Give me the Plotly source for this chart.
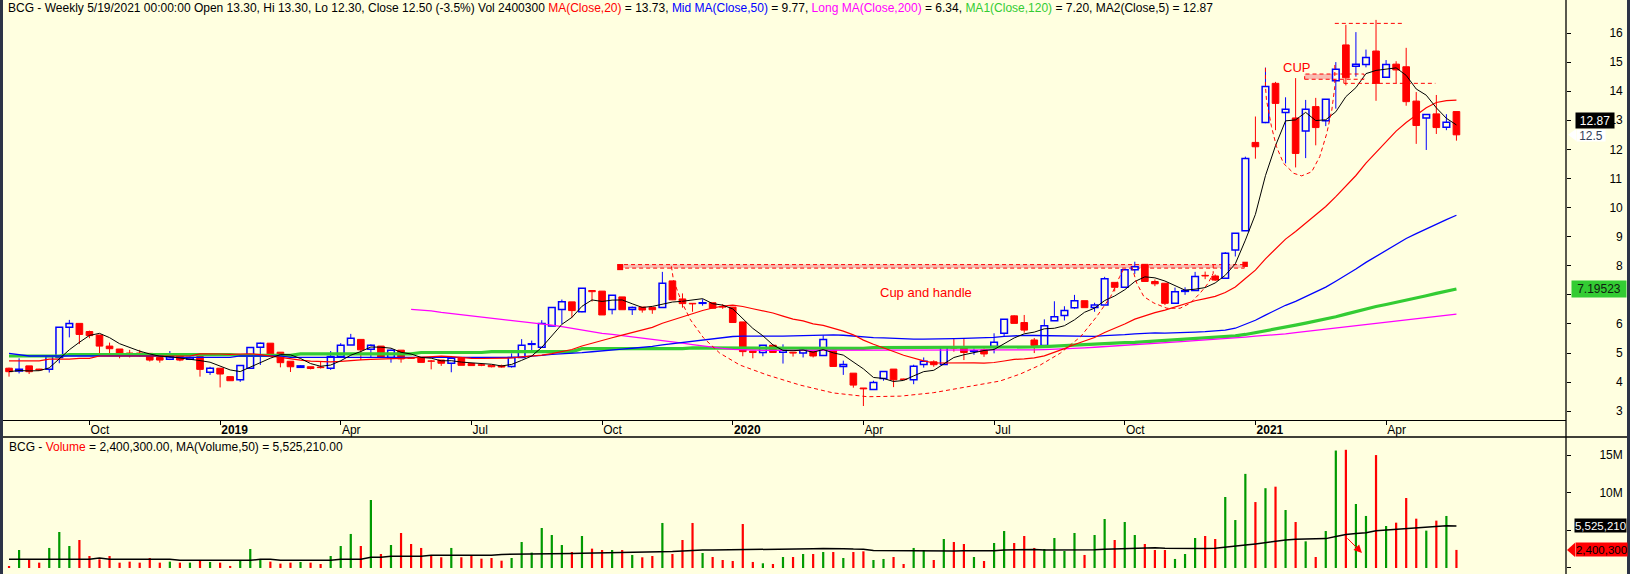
import pandas as pd
import plotly.graph_objects as go

# ---------------- data ----------------
all_weeks = pd.date_range("2018-08-10", "2021-05-21", freq="W-FRI")
missing_weeks = ["2019-02-08"]  # holiday week without a bar
dates = [d.strftime("%Y-%m-%d") for d in all_weeks if d.strftime("%Y-%m-%d") not in missing_weeks]

open_ = [4.48, 4.38, 4.56, 4.45, 4.44, 4.85, 5.89, 6.02, 5.74, 5.62,
         5.24, 5.14, 5.00, 5.00, 4.99, 4.85, 4.79, 4.97, 4.79, 4.88,
         4.34, 4.48, 4.19, 4.08, 4.48, 5.20, 5.34, 5.03, 4.72, 4.51,
         4.53, 4.52, 4.48, 4.88, 5.28, 5.47, 5.13, 5.24, 4.85, 5.10,
         4.83, 4.85, 4.73, 4.76, 4.65, 4.85, 4.64, 4.60, 4.58, 4.56,
         4.54, 4.85, 5.30, 5.20, 5.93, 6.50, 6.76, 6.42, 7.15, 7.13,
         6.50, 6.93, 6.50, 6.58, 6.57, 6.57, 7.48, 6.86, 6.71, 6.71,
         6.73, 6.60, 6.58, 6.07, 5.07, 5.02, 5.27, 5.03, 5.03, 5.00,
         5.05, 4.92, 5.11, 4.54, 4.31, 3.80, 3.75, 4.13, 4.45, 4.11,
         4.08, 4.61, 4.70, 4.61, 5.20, 5.20, 5.06, 5.11, 5.23, 5.68,
         6.28, 6.05, 5.45, 5.26, 6.11, 6.29, 6.56, 6.80, 6.57, 6.65,
         7.43, 7.26, 7.86, 8.05, 7.46, 7.40, 6.71, 7.12, 7.15, 7.67,
         7.65, 7.57, 8.54, 9.20, 12.24, 12.92, 14.27, 13.27, 13.08, 12.63,
         13.47, 12.98, 14.36, 15.59, 14.86, 14.92, 15.38, 14.48, 14.93, 14.84,
         13.66, 13.08, 13.22, 12.76, 13.30]
high = [4.50, 4.82, 4.56, 4.46, 4.93, 5.89, 6.14, 6.02, 5.77, 5.62,
        5.36, 5.14, 5.11, 5.11, 4.99, 4.85, 5.07, 4.99, 4.88, 4.88,
        4.53, 4.48, 4.20, 4.57, 5.19, 5.36, 5.34, 5.03, 4.72, 4.58,
        4.53, 4.71, 5.07, 5.34, 5.66, 5.47, 5.30, 5.24, 5.12, 5.10,
        4.85, 4.85, 4.76, 4.76, 4.90, 4.85, 4.64, 4.62, 4.58, 4.60,
        4.99, 5.48, 5.43, 6.13, 6.57, 6.84, 6.76, 7.23, 7.16, 7.13,
        6.99, 6.93, 6.60, 6.58, 6.57, 7.79, 7.48, 7.05, 6.71, 6.85,
        6.73, 6.68, 6.58, 6.07, 5.07, 5.27, 5.27, 5.30, 5.03, 5.20,
        5.05, 5.61, 5.20, 4.74, 4.31, 3.80, 4.05, 4.37, 4.45, 4.12,
        4.60, 4.85, 4.75, 5.24, 5.50, 5.50, 5.16, 5.16, 5.68, 6.16,
        6.30, 6.31, 5.52, 6.16, 6.78, 6.61, 7.00, 6.80, 6.73, 7.62,
        7.43, 7.86, 8.14, 8.05, 7.53, 7.40, 7.25, 7.26, 7.79, 7.80,
        7.70, 8.47, 9.12, 11.75, 13.13, 14.81, 14.32, 13.79, 14.45, 13.70,
        13.77, 13.72, 15.00, 16.28, 16.03, 15.43, 16.45, 15.07, 15.03, 15.49,
        13.97, 13.20, 13.87, 13.21, 13.30]
low = [4.19, 4.30, 4.28, 4.40, 4.33, 4.65, 5.54, 5.31, 5.51, 4.99,
       4.97, 4.82, 4.85, 4.88, 4.71, 4.67, 4.76, 4.72, 4.76, 4.19,
       4.25, 3.82, 4.05, 4.01, 4.48, 4.59, 4.95, 4.51, 4.35, 4.50,
       4.44, 4.47, 4.42, 4.88, 5.28, 4.76, 4.85, 4.85, 4.67, 4.67,
       4.80, 4.68, 4.44, 4.56, 4.34, 4.58, 4.57, 4.55, 4.51, 4.50,
       4.50, 4.85, 5.05, 5.20, 5.93, 6.00, 6.21, 6.40, 6.77, 6.31,
       6.33, 6.49, 6.31, 6.39, 6.35, 6.57, 6.82, 6.56, 6.42, 6.63,
       6.54, 6.52, 6.05, 4.89, 4.82, 4.89, 5.02, 4.64, 4.88, 4.85,
       4.85, 4.92, 4.54, 4.25, 3.81, 3.18, 3.75, 4.05, 3.83, 4.08,
       3.93, 4.50, 4.53, 4.61, 5.05, 4.76, 4.94, 4.87, 4.99, 5.56,
       6.02, 5.70, 5.00, 5.26, 6.11, 6.12, 6.52, 6.56, 6.42, 6.65,
       7.12, 7.26, 7.72, 7.46, 7.30, 6.65, 6.71, 7.00, 7.15, 7.54,
       7.48, 7.57, 8.32, 9.20, 11.68, 12.90, 12.66, 11.52, 11.38, 11.70,
       12.14, 12.80, 13.40, 14.20, 14.50, 14.82, 13.67, 14.48, 14.28, 13.50,
       12.19, 11.98, 12.53, 12.66, 12.30]
close = [4.36, 4.44, 4.36, 4.42, 4.88, 5.89, 6.02, 5.64, 5.60, 5.24,
         5.15, 4.98, 4.98, 4.98, 4.76, 4.76, 4.90, 4.76, 4.85, 4.44,
         4.48, 4.28, 4.05, 4.57, 5.19, 5.34, 4.97, 4.67, 4.53, 4.56,
         4.47, 4.50, 4.88, 5.27, 5.51, 5.11, 5.27, 4.85, 5.10, 4.80,
         4.82, 4.68, 4.72, 4.65, 4.82, 4.58, 4.57, 4.58, 4.53, 4.52,
         4.85, 5.27, 5.32, 6.02, 6.57, 6.76, 6.46, 7.23, 7.11, 6.31,
         6.99, 6.49, 6.57, 6.48, 6.49, 7.40, 6.83, 6.70, 6.69, 6.73,
         6.54, 6.58, 6.05, 5.05, 5.02, 5.27, 5.02, 5.10, 5.00, 5.13,
         4.90, 5.47, 4.54, 4.61, 3.90, 3.77, 3.99, 4.37, 4.08, 4.09,
         4.55, 4.72, 4.60, 5.20, 5.17, 5.02, 5.08, 4.97, 5.37, 6.16,
         6.02, 5.79, 5.26, 5.94, 6.25, 6.46, 6.80, 6.56, 6.65, 7.55,
         7.26, 7.86, 7.97, 7.46, 7.38, 6.71, 7.11, 7.15, 7.63, 7.65,
         7.51, 8.43, 9.12, 11.69, 12.09, 14.16, 13.58, 13.38, 11.86, 13.38,
         12.75, 13.72, 14.75, 14.46, 14.93, 15.16, 14.27, 14.92, 14.73, 13.64,
         12.82, 13.20, 12.75, 12.93, 12.50]
volume_m = [0.17, 2.39, 1.15, 0.71, 2.66, 4.78, 2.92, 3.72, 1.59, 1.15,
            1.59, 0.71, 0.84, 0.71, 1.33, 0.71, 0.84, 0.71, 0.71, 1.06,
            0.80, 0.71, 0.27, 0.97, 2.52, 1.06, 0.84, 0.58, 0.71, 0.80,
            0.71, 0.53, 1.59, 2.92, 4.52, 2.92, 9.03, 1.86, 3.05, 4.65,
            3.19, 2.66, 1.68, 1.42, 2.66, 1.42, 1.68, 1.24, 1.33, 0.97,
            1.33, 3.45, 2.04, 5.31, 4.38, 3.05, 2.12, 4.25, 2.57, 2.39,
            2.39, 2.39, 1.73, 1.42, 1.59, 5.98, 1.86, 3.72, 5.98, 1.99,
            1.46, 1.06, 0.93, 5.84, 0.80, 0.62, 0.53, 1.46, 1.46, 1.86,
            1.86, 2.12, 2.12, 1.33, 2.12, 2.21, 1.06, 1.20, 1.46, 0.53,
            2.66, 2.39, 1.06, 3.85, 3.45, 3.19, 1.46, 0.93, 3.32, 4.91,
            3.32, 4.25, 2.66, 2.52, 3.98, 2.26, 4.65, 1.73, 4.38, 6.51,
            3.72, 6.11, 4.38, 3.19, 2.39, 2.39, 1.20, 1.86, 3.98, 4.25,
            3.85, 9.43, 6.37, 12.5, 8.76, 10.6, 10.8, 7.70, 6.11, 3.54,
            1.46, 4.91, 15.6, 15.7, 8.50, 6.91, 15.0, 5.58, 6.02, 9.30,
            6.55, 4.96, 6.29, 6.91, 2.40]

# moving-average values before the history needed by the window
ma20_head = [4.73, 4.73, 4.73, 4.73, 4.79, 4.79, 4.79, 4.82, 4.82, 4.90,
             4.90, 4.90, 4.90, 4.90, 4.90, 4.90, 4.90, 4.90, 4.90]
ma50_head = [4.99, 4.95, 4.90, 4.90, 4.90, 4.90, 4.90, 4.90, 4.90, 4.90,
             4.90, 4.90, 4.90, 4.90, 4.90, 4.90, 4.85, 4.85, 4.85, 4.85,
             4.85, 4.85, 4.85, 4.90, 4.90, 4.90, 4.90, 4.90, 4.85, 4.85,
             4.85, 4.85, 4.85, 4.85, 4.85, 4.85, 4.85, 4.85, 4.85, 4.85,
             4.85, 4.85, 4.85, 4.85, 4.85, 4.85, 4.85, 4.85, 4.85]
vol_ma_head = [1.15, 1.15, 1.15, 1.15, 1.15, 1.15, 1.15, 1.15, 1.15, 1.33,
               1.15, 1.15, 1.15, 1.15, 1.15, 1.15, 1.15, 1.02, 1.02, 1.02,
               1.02, 1.02, 1.02, 1.02, 1.02, 1.15, 1.15, 1.02, 1.02, 1.02,
               1.02, 1.02, 1.02, 1.15, 1.15, 1.15, 1.42, 1.42, 1.55, 1.55,
               1.55, 1.55, 1.68, 1.68, 1.68, 1.68, 1.68, 1.68, 1.68]
ma120 = [4.90, 4.90, 4.90, 4.90, 4.90, 4.90, 4.95, 4.95, 4.95, 4.95,
         4.95, 4.95, 4.95, 4.95, 4.95, 4.95, 4.95, 4.95, 4.95, 4.95,
         4.95, 4.95, 4.95, 4.92, 4.92, 4.92, 4.92, 4.92, 4.92, 4.97,
         4.97, 4.97, 4.97, 4.97, 4.97, 4.97, 4.97, 4.97, 4.97, 4.97,
         4.97, 5.02, 5.02, 5.02, 5.02, 5.02, 5.02, 5.02, 5.05, 5.05,
         5.05, 5.05, 5.05, 5.05, 5.05, 5.05, 5.05, 5.15, 5.15, 5.15,
         5.15, 5.15, 5.15, 5.15, 5.15, 5.15, 5.15, 5.15, 5.18, 5.18,
         5.18, 5.18, 5.18, 5.18, 5.18, 5.18, 5.18, 5.16, 5.16, 5.16,
         5.16, 5.16, 5.16, 5.16, 5.16, 5.16, 5.19, 5.19, 5.19, 5.19,
         5.19, 5.19, 5.19, 5.19, 5.19, 5.19, 5.19, 5.19, 5.19, 5.19,
         5.19, 5.20, 5.21, 5.22, 5.24, 5.26, 5.28, 5.30, 5.31, 5.33,
         5.34, 5.36, 5.37, 5.39, 5.41, 5.43, 5.45, 5.47, 5.49, 5.51,
         5.54, 5.56, 5.59, 5.64, 5.70, 5.76, 5.83, 5.90, 5.96, 6.03,
         6.10, 6.17, 6.25, 6.34, 6.43, 6.52, 6.60, 6.67, 6.74, 6.81,
         6.89, 6.97, 7.05, 7.12, 7.20]
ma200 = [None, None, None, None, None, None, None, None, None, None,
         None, None, None, None, None, None, None, None, None, None,
         None, None, None, None, None, None, None, None, None, None,
         None, None, None, None, None, None, None, None, None, None,
         6.50, 6.48, 6.45, 6.40, 6.36, 6.32, 6.28, 6.24, 6.20, 6.16,
         6.14, 6.10, 6.06, 6.02, 5.96, 5.91, 5.85, 5.80, 5.74, 5.68,
         5.64, 5.60, 5.55, 5.51, 5.47, 5.43, 5.39, 5.34, 5.29, 5.24,
         5.20, 5.16, 5.13, 5.11, 5.10, 5.09, 5.09, 5.09, 5.09, 5.09,
         5.09, 5.09, 5.09, 5.09, 5.09, 5.09, 5.09, 5.09, 5.09, 5.09,
         5.09, 5.09, 5.09, 5.09, 5.09, 5.09, 5.09, 5.09, 5.09, 5.09,
         5.09, 5.10, 5.11, 5.12, 5.13, 5.14, 5.16, 5.18, 5.20, 5.22,
         5.24, 5.26, 5.29, 5.31, 5.33, 5.36, 5.38, 5.40, 5.43, 5.45,
         5.47, 5.50, 5.52, 5.55, 5.58, 5.60, 5.62, 5.66, 5.70, 5.74,
         5.78, 5.82, 5.85, 5.89, 5.93, 5.97, 6.01, 6.05, 6.10, 6.14,
         6.18, 6.22, 6.26, 6.30, 6.34]

FIG_SP = "\u2007"  # digit-wide space, keeps the right-axis labels right-aligned
price_ticks = [3, 4, 5, 6, 7, 8, 9, 10, 11, 12, 13, 14, 15, 16]
# "7" sits under the MA1 value label, as in the original
price_tick_text = ["" if v == 7 else (FIG_SP if v < 10 else "") + str(v) for v in price_ticks]
vol_ticks = [0, 5, 10, 15]
vol_tick_text = [FIG_SP + FIG_SP + "0", "", "10M", "15M"]  # "5M" sits under the MA value label

# hand-drawn study objects (bar index, price)
resist_band = [60.6, 122.9, 7.92, 8.04]
big_cup = [(65.9, 7.98), (66.1, 7.51), (66.9, 6.77), (67.8, 6.14), (69.1, 5.52), (70.7, 5.00),
           (72.7, 4.59), (75.4, 4.25), (78.7, 3.90), (82.0, 3.63), (85.4, 3.50), (88.7, 3.52),
           (92.0, 3.64), (95.3, 3.84), (98.6, 4.04), (100.6, 4.28), (102.6, 4.59), (104.6, 5.00),
           (106.6, 5.56), (108.2, 6.25), (109.6, 6.94), (110.5, 7.63), (110.9, 7.90)]
handle = [(111.7, 7.97), (112.2, 7.40), (112.9, 6.94), (113.9, 6.72), (115.2, 6.54), (116.5, 6.54),
          (117.5, 6.71), (118.5, 7.06), (119.3, 7.40), (119.8, 7.74), (119.8, 8.03)]
small_cup = [(125.0, 14.80), (125.0, 14.16), (125.1, 13.70), (125.6, 12.78), (126.1, 12.09),
             (126.8, 11.52), (127.8, 11.18), (128.6, 11.09), (129.6, 11.23), (130.4, 11.75),
             (131.1, 12.55), (131.6, 13.35), (131.9, 14.16), (131.9, 14.95)]
cup_band = [128.9, 134.8, 14.41, 14.59]
cup_fill_end = 132.1
top_line = [131.9, 138.7, 16.33]
low_line = [132.8, 141.9, 14.27]

title_text = ("BCG - Weekly 5/19/2021 00:00:00 Open 13.30, Hi 13.30, Lo 12.30, Close 12.50 (-3.5%) Vol 2400300 "
              "<span style='color:#FF0000'>MA(Close,20)</span> = 13.73, "
              "<span style='color:#0000FF'>Mid MA(Close,50)</span> = 9.77, "
              "<span style='color:#FF00FF'>Long MA(Close,200)</span> = 6.34, "
              "<span style='color:#33CC33'>MA1(Close,120)</span> = 7.20, "
              "MA2(Close,5) = 12.87")
vol_title_text = ("BCG - <span style='color:#FF0000'>Volume</span> = 2,400,300.00, "
                  "MA(Volume,50) = 5,525,210.00")

# ---------------- derived ----------------
close_s = pd.Series(close)
ma5 = close_s.rolling(5, min_periods=1).mean().tolist()
ma20 = close_s.rolling(20).mean().tolist()
ma20[:len(ma20_head)] = ma20_head
ma50 = close_s.rolling(50).mean().tolist()
ma50[:len(ma50_head)] = ma50_head
vol_ma = pd.Series(volume_m).rolling(50).mean().tolist()
vol_ma[:len(vol_ma_head)] = vol_ma_head

tick_vals, tick_text = [], []
prev_m = None
for d in dates:
    ts = pd.Timestamp(d)
    if prev_m is not None and ts.month != prev_m and ts.month in (1, 4, 7, 10):
        tick_vals.append(d)
        tick_text.append(f"<b>{ts.year}</b>" if ts.month == 1 else ts.strftime("%b"))
    prev_m = ts.month

# ---------------- layout helpers ----------------
W, H = 1630, 574
BG = "#FFFFE0"
FONT = "Liberation Sans, Arial, sans-serif"
UP, DN = "#0000FF", "#FF0000"
VOL_UP = "#009A00"


def fx(px):
    return px / W


def fy(px):
    return 1 - px / H


fig = go.Figure()

# wicks (drawn outside the bodies so hollow candles stay hollow)
wx = {True: [], False: []}
wy = {True: [], False: []}
for d, o, h, l, c in zip(dates, open_, high, low, close):
    up = c >= o
    top, bot = max(o, c), min(o, c)
    wx[up] += [d, d, None, d, d, None]
    wy[up] += [h, top, None, bot, l, None]
for up in (True, False):
    fig.add_trace(go.Scatter(x=wx[up], y=wy[up], mode="lines", line=dict(color=UP if up else DN, width=1),
                             hoverinfo="skip", showlegend=False))

# bodies
for up in (True, False):
    idx = [i for i in range(len(dates)) if (close[i] >= open_[i]) == up]
    fig.add_trace(go.Bar(
        x=[dates[i] for i in idx],
        y=[abs(close[i] - open_[i]) for i in idx],
        base=[min(open_[i], close[i]) for i in idx],
        width=0.66,
        marker=dict(color=BG if up else DN, line=dict(color=UP if up else DN, width=1.5 if up else 1)),
        hoverinfo="skip", showlegend=False))

# moving averages
fig.add_trace(go.Scatter(x=dates, y=ma120, mode="lines", line=dict(color="#33CC33", width=3.2), showlegend=False))
fig.add_trace(go.Scatter(x=dates, y=ma200, mode="lines", line=dict(color="#FF00FF", width=1.3), showlegend=False))
fig.add_trace(go.Scatter(x=dates, y=ma50, mode="lines", line=dict(color="#0000FF", width=1.3), showlegend=False))
fig.add_trace(go.Scatter(x=dates, y=ma20, mode="lines", line=dict(color="#FF0000", width=1.2), showlegend=False))
fig.add_trace(go.Scatter(x=dates, y=ma5, mode="lines", line=dict(color="#000000", width=1), showlegend=False))

# volume
vol_colors = [VOL_UP if c >= o else DN for o, c in zip(open_, close)]
fig.add_trace(go.Bar(x=dates, y=volume_m, xaxis="x2", yaxis="y2", width=0.22,
                     marker=dict(color=vol_colors, line=dict(width=0)), showlegend=False))
fig.add_trace(go.Scatter(x=dates, y=vol_ma, xaxis="x2", yaxis="y2", mode="lines",
                         line=dict(color="#000000", width=1.5), showlegend=False))

PRICE_RANGE = [2.70, 17.134]
VOL_RANGE = [-0.8, 17.4]
X_RANGE = [-0.6, 154.9]
axis_font = dict(family=FONT, size=12, color="#000000")

fig.update_layout(
    width=W, height=H, margin=dict(l=0, r=0, t=0, b=0),
    paper_bgcolor=BG, plot_bgcolor=BG, barmode="overlay", showlegend=False,
    font=dict(family=FONT, size=12, color="#000000"),
    xaxis=dict(type="category", categoryorder="array", categoryarray=dates, domain=[fx(3), fx(1566)],
               range=X_RANGE, anchor="y", showline=True, linecolor="#000000", linewidth=1.3,
               ticks="outside", ticklen=4, tickcolor="#000000", tickvals=tick_vals, ticktext=tick_text,
               ticklabelposition="outside right", ticklabelstandoff=-2, tickfont=axis_font,
               showgrid=False, zeroline=False),
    xaxis2=dict(type="category", categoryorder="array", categoryarray=dates, domain=[fx(3), fx(1566)],
                range=X_RANGE, anchor="y2", matches="x", showticklabels=False, ticks="",
                showline=False, showgrid=False, zeroline=False),
    yaxis=dict(domain=[fy(420), fy(0)], range=PRICE_RANGE, anchor="x", side="right", ticks="outside",
               ticklen=4, tickcolor="#000000", tickvals=price_ticks, ticktext=price_tick_text,
               tickfont=axis_font, ticklabelstandoff=36,
               showgrid=False, zeroline=False, showline=False),
    yaxis2=dict(domain=[fy(574), fy(437)], range=VOL_RANGE, anchor="x2", side="right", ticks="outside",
                ticklen=4, tickcolor="#000000", tickvals=vol_ticks, ticktext=vol_tick_text,
                tickfont=axis_font, ticklabelstandoff=26,
                showgrid=False, zeroline=False, showline=False),
)

shapes = []
# frame: dark side borders, right axis line, pane separator
shapes.append(dict(type="rect", xref="paper", yref="paper", x0=0, x1=fx(3), y0=0, y1=1,
                   fillcolor="#2C3347", line=dict(width=0), layer="above"))
shapes.append(dict(type="rect", xref="paper", yref="paper", x0=fx(1627), x1=1, y0=0, y1=1,
                   fillcolor="#2C3347", line=dict(width=0), layer="above"))
shapes.append(dict(type="line", xref="paper", yref="paper", x0=fx(1566), x1=fx(1566), y0=0, y1=1,
                   line=dict(color="#000000", width=1.3)))
shapes.append(dict(type="line", xref="paper", yref="paper", x0=fx(3), x1=fx(1627), y0=fy(437), y1=fy(437),
                   line=dict(color="#000000", width=1.3)))

DASH = "4px,3px"
RED = "#FF0000"
# resistance band
x0, x1, y0, y1 = resist_band
shapes.append(dict(type="rect", xref="x", yref="y", x0=x0, x1=x1, y0=y0, y1=y1,
                   fillcolor="#F8BDB2", line=dict(color=RED, width=1, dash=DASH), layer="below"))
shapes.append(dict(type="rect", xref="x", yref="y", x0=x0 - 0.1, x1=x0 + 0.5, y0=y0 - 0.07, y1=y1 + 0.02,
                   fillcolor=RED, line=dict(width=0)))
shapes.append(dict(type="rect", xref="x", yref="y", x0=x1 - 0.2, x1=x1 + 0.35, y0=y0 + 0.04, y1=y1 + 0.1,
                   fillcolor=RED, line=dict(width=0)))


def path_of(pts):
    return "M " + " L ".join(f"{a},{b}" for a, b in pts)


for pts in (big_cup, handle, small_cup):
    shapes.append(dict(type="path", xref="x", yref="y", path=path_of(pts),
                       line=dict(color=RED, width=1, dash=DASH)))

# upper cup objects
bx0, bx1, by0, by1 = cup_band
shapes.append(dict(type="rect", xref="x", yref="y", x0=bx0, x1=cup_fill_end, y0=by0, y1=by1,
                   fillcolor="#F8BDB2", line=dict(width=0), layer="below"))
shapes.append(dict(type="rect", xref="x", yref="y", x0=bx0, x1=bx1, y0=by0, y1=by1,
                   line=dict(color=RED, width=1, dash=DASH)))
shapes.append(dict(type="line", xref="x", yref="y", x0=top_line[0], x1=top_line[1], y0=top_line[2],
                   y1=top_line[2], line=dict(color=RED, width=1, dash=DASH)))
shapes.append(dict(type="line", xref="x", yref="y", x0=low_line[0], x1=low_line[1], y0=low_line[2],
                   y1=low_line[2], line=dict(color=RED, width=1, dash=DASH)))
shapes.append(dict(type="line", xref="x", yref="y", x0=low_line[0], x1=low_line[0], y0=low_line[2],
                   y1=by1, line=dict(color=RED, width=1, dash=DASH)))

# pointer tips for the value labels
last_close = close[-1]
shapes.append(dict(type="path", xref="paper", yref="y",
                   path=f"M {fx(1568)},{last_close} L {fx(1576)},{last_close + 0.2} L {fx(1576)},{last_close - 0.2} Z",
                   fillcolor="#FFFFFF", line=dict(width=0)))
last_vol = volume_m[-1]
shapes.append(dict(type="path", xref="paper", yref="y2",
                   path=f"M {fx(1567)},{last_vol} L {fx(1575)},{last_vol + 0.95} L {fx(1575)},{last_vol - 0.95} Z",
                   fillcolor=RED, line=dict(width=0)))
fig.update_layout(shapes=shapes)

ann = []
ann.append(dict(text=title_text, xref="paper", yref="paper", x=fx(6), y=fy(8), xanchor="left",
                yanchor="middle", showarrow=False, font=dict(family=FONT, size=12, color="#000000")))
ann.append(dict(text=vol_title_text, xref="paper", yref="paper", x=fx(7), y=fy(447), xanchor="left",
                yanchor="middle", showarrow=False, font=dict(family=FONT, size=12, color="#000000")))
ann.append(dict(text="Cup and handle", xref="x", yref="y", x=91.2, y=7.08, showarrow=False,
                font=dict(family=FONT, size=13, color=RED)))
ann.append(dict(text="CUP", xref="x", yref="y", x=128.1, y=14.80, showarrow=False,
                font=dict(family=FONT, size=13, color=RED)))
# value labels on the right axis
ann.append(dict(text="12.87", xref="paper", yref="y", x=fx(1575), y=ma5[-1], yshift=4, xanchor="left",
                yanchor="middle", showarrow=False, bgcolor="#000000", width=36, height=13, borderpad=1,
                font=dict(family=FONT, size=12, color="#FFFFFF")))
ann.append(dict(text="12.5", xref="paper", yref="y", x=fx(1576), y=last_close, yshift=-1, xanchor="left",
                yanchor="middle", showarrow=False, bgcolor="#FFFFFF", width=28, height=11, borderpad=0,
                font=dict(family=FONT, size=12, color="#34405A")))
ann.append(dict(text="7.19523", xref="paper", yref="y", x=fx(1571), y=ma120[-1], xanchor="left",
                yanchor="middle", showarrow=False, bgcolor="#33CC33", width=52, height=14, borderpad=1,
                font=dict(family=FONT, size=12, color="#102010")))
ann.append(dict(text="5,525,210", xref="paper", yref="y2", x=fx(1574), y=vol_ma[-1], xanchor="left",
                yanchor="middle", showarrow=False, bgcolor="#000000", width=51, height=13, borderpad=0,
                font=dict(family=FONT, size=11.5, color="#FFFFFF")))
ann.append(dict(text="2,400,300", xref="paper", yref="y2", x=fx(1575), y=last_vol, xanchor="left",
                yanchor="middle", showarrow=False, bgcolor=RED, width=51, height=13, borderpad=0,
                font=dict(family=FONT, size=11.5, color="#000000")))
# hand-drawn arrow in volume pane
ann.append(dict(text="", xref="x2", yref="y2", x=134.6, y=2.0, ax=-16, ay=-16, showarrow=True,
                arrowhead=2, arrowsize=1.6, arrowwidth=1, arrowcolor=RED))
fig.update_layout(annotations=ann)

# the page must not add its own margin around the 1630x574 figure
fig.write_html("out.html", config={"displayModeBar": False},
               post_script="document.body.style.margin='0';document.body.style.overflow='hidden';")
